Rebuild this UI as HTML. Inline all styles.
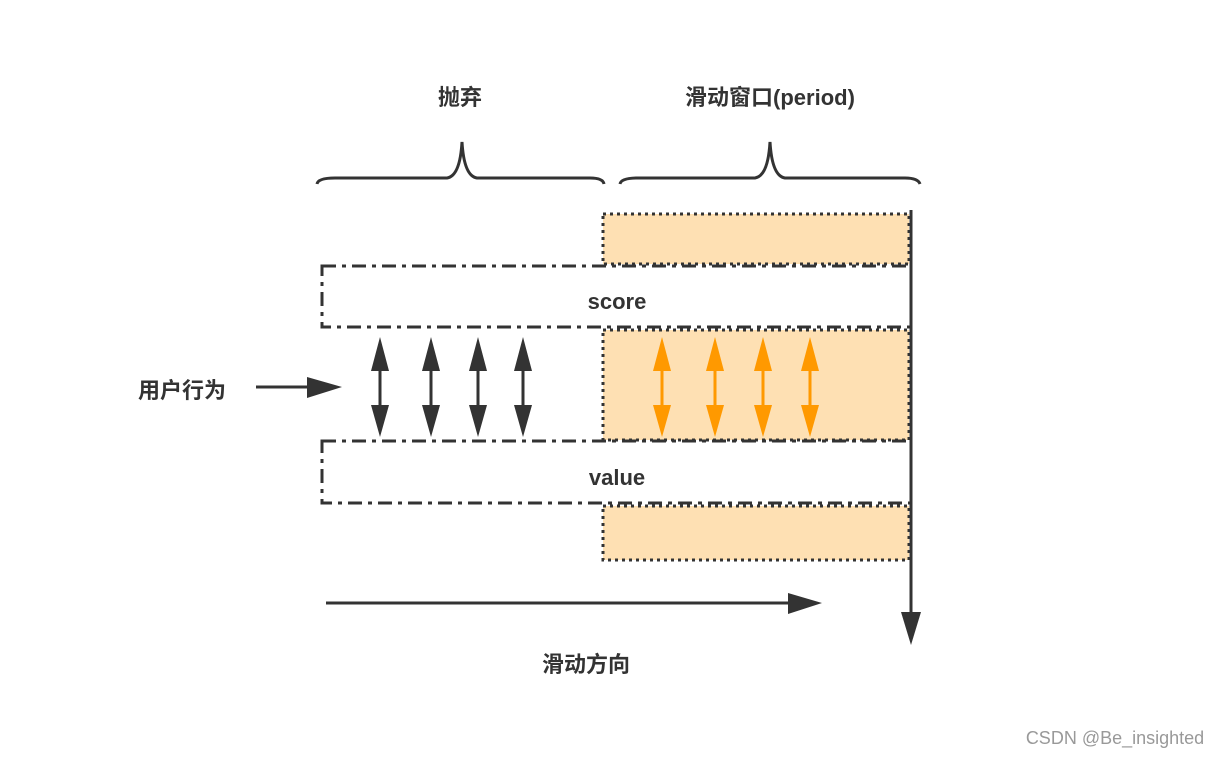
<!DOCTYPE html>
<html><head><meta charset="utf-8"><style>
body{margin:0;background:#fff;}
svg text{font-family:"Liberation Sans","Noto Sans CJK SC",sans-serif;font-weight:bold;fill:#333;}
</style></head><body>
<svg width="1222" height="758" viewBox="0 0 1222 758" xmlns="http://www.w3.org/2000/svg">
<defs>
<marker id="ab" markerWidth="10" markerHeight="10" refX="9" refY="5" orient="auto" markerUnits="userSpaceOnUse" viewBox="0 0 10 10"><path d="M0,0 L10,5 L0,10z" fill="#333"/></marker>
</defs>
<rect width="1222" height="758" fill="#fff"/>
<text x="460" y="105" font-size="22" text-anchor="middle">抛弃</text>
<text x="770" y="105" font-size="22" text-anchor="middle">滑动窗口(period)</text>
<!-- braces -->
<path d="M317,184 Q318,178 335,178 L447,178 Q460,176 462,142 Q464,176 477,178 L590,178 Q603,178 604,184" fill="none" stroke="#333" stroke-width="3"/>
<path d="M620,184 Q621,178 638,178 L755,178 Q768,176 770,142 Q772,176 785,178 L905,178 Q918,178 920,184" fill="none" stroke="#333" stroke-width="3"/>
<!-- orange boxes -->
<g fill="#fee0b3" stroke="#333" stroke-width="3" stroke-dasharray="3,4">
<rect x="603" y="214" width="306" height="50"/>
<rect x="603" y="330" width="306" height="110"/>
<rect x="603" y="506" width="306" height="54"/>
</g>
<!-- score/value boxes -->
<g fill="none" stroke="#333" stroke-width="3" stroke-dasharray="14,6,4,6">
<rect x="322" y="266" width="589" height="61"/>
<rect x="322" y="441" width="589" height="62"/>
</g>
<text x="617" y="309" font-size="22" text-anchor="middle">score</text>
<text x="617" y="485" font-size="22" text-anchor="middle">value</text>
<!-- vertical line -->
<line x1="911" y1="210" x2="911" y2="615" stroke="#333" stroke-width="3"/>
<path d="M901,612 L921,612 L911,645z" fill="#333"/>
<!-- horizontal arrow -->
<line x1="326" y1="603" x2="795" y2="603" stroke="#333" stroke-width="3"/>
<path d="M788,593 L822,603 L788,614z" fill="#333"/>
<!-- user arrow -->
<line x1="256" y1="387" x2="315" y2="387" stroke="#333" stroke-width="3"/>
<path d="M307,377 L342,387 L307,398z" fill="#333"/>
<text x="182" y="398" font-size="22" text-anchor="middle">用户行为</text>
<!-- double arrows -->
<g id="da">
</g>
<g stroke-width="3">
<g stroke="#333" fill="#333">
<line x1="380" y1="365" x2="380" y2="410"/><path d="M371,371 L380,337 L389,371z" stroke="none"/><path d="M371,405 L380,437 L389,405z" stroke="none"/>
<line x1="431" y1="365" x2="431" y2="410"/><path d="M422,371 L431,337 L440,371z" stroke="none"/><path d="M422,405 L431,437 L440,405z" stroke="none"/>
<line x1="478" y1="365" x2="478" y2="410"/><path d="M469,371 L478,337 L487,371z" stroke="none"/><path d="M469,405 L478,437 L487,405z" stroke="none"/>
<line x1="523" y1="365" x2="523" y2="410"/><path d="M514,371 L523,337 L532,371z" stroke="none"/><path d="M514,405 L523,437 L532,405z" stroke="none"/>
</g>
<g stroke="#ff9900" fill="#ff9900">
<line x1="662" y1="365" x2="662" y2="410"/><path d="M653,371 L662,337 L671,371z" stroke="none"/><path d="M653,405 L662,437 L671,405z" stroke="none"/>
<line x1="715" y1="365" x2="715" y2="410"/><path d="M706,371 L715,337 L724,371z" stroke="none"/><path d="M706,405 L715,437 L724,405z" stroke="none"/>
<line x1="763" y1="365" x2="763" y2="410"/><path d="M754,371 L763,337 L772,371z" stroke="none"/><path d="M754,405 L763,437 L772,405z" stroke="none"/>
<line x1="810" y1="365" x2="810" y2="410"/><path d="M801,371 L810,337 L819,371z" stroke="none"/><path d="M801,405 L810,437 L819,405z" stroke="none"/>
</g>
</g>
<text x="586" y="672" font-size="22" text-anchor="middle">滑动方向</text>
<text x="1115" y="744" font-size="18" text-anchor="middle" style="font-weight:normal;fill:#999">CSDN @Be_insighted</text>
</svg>
</body></html>
